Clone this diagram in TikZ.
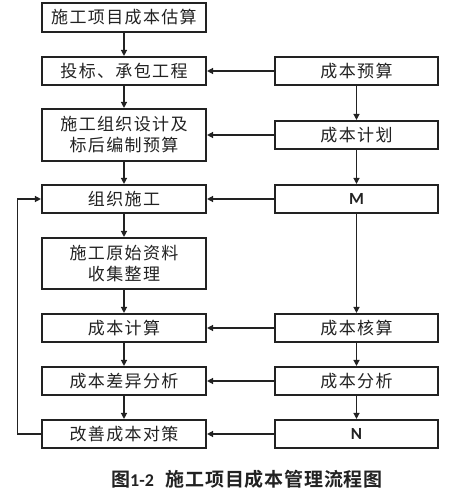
\documentclass[tikz,border=0pt]{standalone}
\usepackage{fontspec}
\usetikzlibrary{arrows.meta}
\newfontfamily\cjk[LetterSpace=8]{Noto Sans CJK SC}
\newfontfamily\cjkcap[LetterSpace=4,BoldFont={* Bold}]{Noto Sans CJK SC}
\newfontfamily\latb[BoldFont={* Bold}]{Carlito}
\definecolor{ink}{HTML}{222222}
\tikzset{
  box/.style={draw=ink, line width=1.6pt, rectangle, inner sep=0pt, align=center,
     text=ink, font=\cjk\fontsize{17}{21}\selectfont},
  lbox/.style={box, minimum width=164.5pt},
  rbox/.style={box, minimum width=163.5pt},
  arr/.style={draw=ink, line width=1.3pt, -{Triangle[length=6pt,width=6pt]}},
  mn/.style={font=\latb\bfseries\fontsize{17}{21}\selectfont}
}
\begin{document}
\begin{tikzpicture}[x=1pt,y=-1pt]
\useasboundingbox (0,0) rectangle (472,493);
% left column
\node[lbox, minimum height=29.5pt] (L1) at (124,17.5) {施工项目成本估算};
\node[lbox, minimum height=28.5pt] (L2) at (124,71) {投标、承包工程};
\node[lbox, minimum height=52.5pt] (L3) at (124,135) {施工组织设计及\\标后编制预算};
\node[lbox, minimum height=28.5pt] (L4) at (124,199) {组织施工};
\node[lbox, minimum height=51.5pt] (L5) at (124,263.5) {施工原始资料\\收集整理};
\node[lbox, minimum height=28.5pt] (L6) at (124,328) {成本计算};
\node[lbox, minimum height=28.5pt] (L7) at (124,381) {成本差异分析};
\node[lbox, minimum height=28.5pt] (L8) at (124,434) {改善成本对策};
% right column
\node[rbox, minimum height=28.5pt] (R1) at (356.5,71) {成本预算};
\node[rbox, minimum height=28.5pt] (R2) at (356.5,135) {成本计划};
\node[rbox, minimum height=28.5pt, mn] (R3) at (356.5,199) {M};
\node[rbox, minimum height=28.5pt] (R4) at (356.5,328) {成本核算};
\node[rbox, minimum height=28.5pt] (R5) at (356.5,381) {成本分析};
\node[rbox, minimum height=28.5pt, mn] (R6) at (356.5,434) {N};
% left chain
\foreach \a/\b in {L1/L2,L2/L3,L3/L4,L4/L5,L5/L6,L6/L7,L7/L8}
  \draw[arr] (\a) -- (\b);
% right chain
\foreach \a/\b in {R1/R2,R2/R3,R3/R4,R4/R5,R5/R6}
  \draw[arr] (\a) -- (\b);
% horizontal
\draw[arr] (R1) -- (L2);
\draw[arr] (R2) -- (L3);
\draw[arr] (R3) -- (L4);
\draw[arr] (R4) -- (L6);
\draw[arr] (R5) -- (L7);
\draw[arr] (R6) -- (L8);
% feedback
\coordinate (fb) at (17.5,434);
\draw[arr] (L8.west) -- (fb) |- (L4.west);
% caption
\node[text=ink, inner sep=0pt, anchor=west] (cap) at (111,479)
  {\cjkcap\bfseries\fontsize{19}{23}\selectfont 图{\latb\bfseries\fontsize{18}{22}\selectfont 1-2}\hspace{12pt}施工项目成本管理流程图};
\end{tikzpicture}
\end{document}
